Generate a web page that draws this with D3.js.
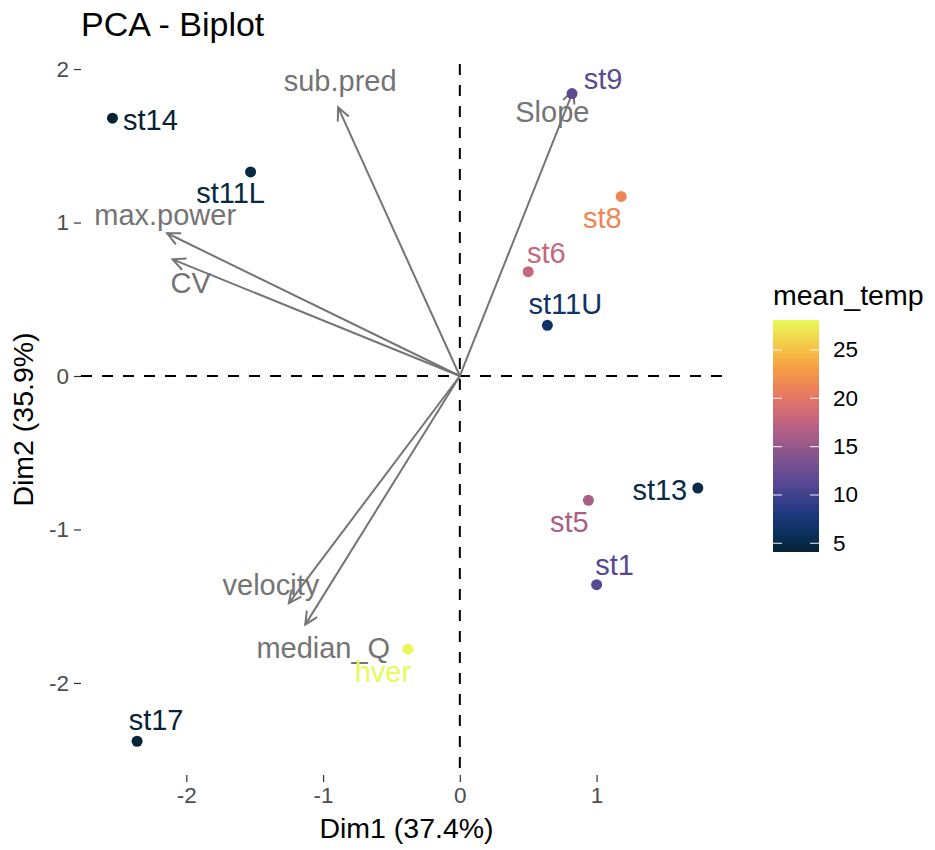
<!DOCTYPE html>
<html>
<head>
<meta charset="utf-8">
<script src="https://cdn.jsdelivr.net/npm/d3@7"></script>
<style>
  html, body { margin: 0; padding: 0; background: #fff; }
  svg { display: block; font-family: "Liberation Sans", Arial, sans-serif; }
</style>
</head>
<body>
<svg id="chart" width="935" height="850"></svg>
<script>
// Individuals (sampling stations): PCA coordinates and mean temperature
const stations = ["st14", "st11L", "st9", "st8", "st6", "st11U", "st13", "st5", "st1", "hver", "st17"];
const dim1 = [-2.54, -1.53, 0.82, 1.18, 0.50, 0.64, 1.74, 0.94, 1.00, -0.38, -2.36];
const dim2 = [1.68, 1.33, 1.84, 1.17, 0.68, 0.33, -0.73, -0.81, -1.36, -1.78, -2.38];
const meanTemp = [4.1, 4.8, 11.5, 21.3, 18.0, 6.6, 5.0, 16.2, 11.2, 28.1, 4.3];

// Variables: loadings drawn as arrows from the origin
const variables = ["sub.pred", "Slope", "max.power", "CV", "velocity", "median_Q"];
const varDim1 = [-0.89, 0.83, -2.14, -2.10, -1.25, -1.13];
const varDim2 = [1.75, 1.86, 0.93, 0.76, -1.48, -1.62];

const xTicks = [-2, -1, 0, 1];
const yTicks = [-2, -1, 0, 1, 2];
const legendTicks = [5, 10, 15, 20, 25];

const xTitle = "Dim1 (37.4%)";
const yTitle = "Dim2 (35.9%)";
const chartTitle = "PCA - Biplot";
const legendTitle = "mean_temp";

// Label placement offsets (pixels) around each mark
const stationNudge = {
  st14: [38, 2], st11L: [-20, 21], st9: [31, -15], st8: [-19, 22], st6: [18, -19],
  st11U: [18, -21], st13: [-38, 2], st5: [-19, 22], st1: [18, -20], hver: [-25, 23], st17: [19, -21]
};
const variableNudge = {
  "sub.pred": [2, -26], "Slope": [-21, 21], "max.power": [-2, -18],
  "CV": [18, 24], "velocity": [-18, -18], "median_Q": [18, 23]
};

// Thermal colour ramp (dark navy -> blue -> purple -> pink -> orange -> yellow)
const thermal = ["#042333", "#0b3568", "#2a3a8c", "#5a4a94", "#7d5290", "#a95d86",
                 "#d0697a", "#ee7d5a", "#f9a13e", "#f4cd47", "#e7fa5a"];

const svg = d3.select("#chart");
const panel = { left: 81, right: 732, top: 64, bottom: 775 };

const x = d3.scaleLinear().domain([-2.77, 1.99]).range([panel.left, panel.right]);
const y = d3.scaleLinear().domain([-2.60, 2.033]).range([panel.bottom, panel.top]);

const tempExtent = d3.extent(meanTemp);
const colorInterp = d3.interpolateRgbBasis(thermal);
const color = d3.scaleSequential(colorInterp).domain(tempExtent);

const axisGrey = "#4d4d4d";
const varGrey = "#747474";
const labelSize = 29;

// Title
svg.append("text").attr("x", panel.left).attr("y", 36)
  .attr("font-size", 34).attr("fill", "#000").text(chartTitle);

// Axes
const fmt = d => String(d);
const xAxis = d3.axisBottom(x).tickValues(xTicks).tickSize(7).tickPadding(5).tickFormat(fmt);
const gx = svg.append("g").attr("transform", `translate(0,${panel.bottom})`).call(xAxis);
gx.select(".domain").remove();
gx.selectAll(".tick line").attr("stroke", "#333").attr("stroke-width", 1.2);
gx.selectAll(".tick text").attr("fill", axisGrey).attr("font-size", 22.5)
  .attr("font-family", "Liberation Sans, Arial, sans-serif");

const yAxis = d3.axisLeft(y).tickValues(yTicks).tickSize(7).tickPadding(5).tickFormat(fmt);
const gy = svg.append("g").attr("transform", `translate(${panel.left},0)`).call(yAxis);
gy.select(".domain").remove();
gy.selectAll(".tick line").attr("stroke", "#333").attr("stroke-width", 1.2);
gy.selectAll(".tick text").attr("fill", axisGrey).attr("font-size", 22.5)
  .attr("font-family", "Liberation Sans, Arial, sans-serif");

svg.append("text").attr("x", (panel.left + panel.right) / 2).attr("y", 838)
  .attr("text-anchor", "middle").attr("font-size", 28.5).attr("fill", "#000").text(xTitle);
svg.append("text").attr("transform", `translate(33,${(panel.top + panel.bottom) / 2}) rotate(-90)`)
  .attr("text-anchor", "middle").attr("font-size", 28.5).attr("fill", "#000").text(yTitle);

// Reference lines through the origin
svg.append("line").attr("x1", panel.left).attr("x2", panel.right)
  .attr("y1", y(0)).attr("y2", y(0))
  .attr("stroke", "#000").attr("stroke-width", 2).attr("stroke-dasharray", "11,10");
svg.append("line").attr("x1", x(0)).attr("x2", x(0))
  .attr("y1", panel.top).attr("y2", panel.bottom)
  .attr("stroke", "#000").attr("stroke-width", 2).attr("stroke-dasharray", "11,10");

// Variable arrows
const varData = variables.map((v, i) => ({ name: v, d1: varDim1[i], d2: varDim2[i] }));
const arrows = svg.append("g");
varData.forEach(d => {
  const x0 = x(0), y0 = y(0), x1 = x(d.d1), y1 = y(d.d2);
  const ang = Math.atan2(y1 - y0, x1 - x0);
  const head = 14, spread = Math.PI / 7;
  arrows.append("line").attr("x1", x0).attr("y1", y0).attr("x2", x1).attr("y2", y1)
    .attr("stroke", varGrey).attr("stroke-width", 2);
  arrows.append("path")
    .attr("d", `M${x1 - head * Math.cos(ang - spread)},${y1 - head * Math.sin(ang - spread)}` +
               `L${x1},${y1}` +
               `L${x1 - head * Math.cos(ang + spread)},${y1 - head * Math.sin(ang + spread)}`)
    .attr("fill", "none").attr("stroke", varGrey).attr("stroke-width", 2)
    .attr("stroke-linejoin", "miter");
});

// Stations
const stData = stations.map((s, i) => ({ name: s, d1: dim1[i], d2: dim2[i], t: meanTemp[i] }));
svg.append("g").selectAll("circle").data(stData).join("circle")
  .attr("cx", d => x(d.d1)).attr("cy", d => y(d.d2)).attr("r", 5.5)
  .attr("fill", d => color(d.t));

// Variable labels
svg.append("g").selectAll("text").data(varData).join("text")
  .attr("x", d => x(d.d1) + variableNudge[d.name][0])
  .attr("y", d => y(d.d2) + variableNudge[d.name][1])
  .attr("text-anchor", "middle").attr("dominant-baseline", "central")
  .attr("font-size", labelSize).attr("fill", varGrey).text(d => d.name);

// Station labels
svg.append("g").selectAll("text").data(stData).join("text")
  .attr("x", d => x(d.d1) + stationNudge[d.name][0])
  .attr("y", d => y(d.d2) + stationNudge[d.name][1])
  .attr("text-anchor", "middle").attr("dominant-baseline", "central")
  .attr("font-size", labelSize).attr("fill", d => color(d.t)).text(d => d.name);

// Colour bar legend
const legend = { x: 773, y: 320, w: 46, h: 232 };
const defs = svg.append("defs");
const grad = defs.append("linearGradient").attr("id", "tempGrad")
  .attr("x1", 0).attr("y1", 1).attr("x2", 0).attr("y2", 0);
d3.range(0, 1.0001, 0.05).forEach(p => {
  grad.append("stop").attr("offset", p).attr("stop-color", colorInterp(p));
});
svg.append("text").attr("x", legend.x).attr("y", legend.y - 15)
  .attr("font-size", 28.5).attr("fill", "#000").text(legendTitle);
svg.append("rect").attr("x", legend.x).attr("y", legend.y)
  .attr("width", legend.w).attr("height", legend.h).attr("fill", "url(#tempGrad)");
const ly = d3.scaleLinear().domain(tempExtent).range([legend.y + legend.h, legend.y]);
const lg = svg.append("g");
legendTicks.forEach(t => {
  lg.append("line").attr("x1", legend.x).attr("x2", legend.x + 9)
    .attr("y1", ly(t)).attr("y2", ly(t)).attr("stroke", "#fff").attr("stroke-width", 1.2).attr("opacity", 0.8);
  lg.append("line").attr("x1", legend.x + legend.w - 9).attr("x2", legend.x + legend.w)
    .attr("y1", ly(t)).attr("y2", ly(t)).attr("stroke", "#fff").attr("stroke-width", 1.2).attr("opacity", 0.8);
  lg.append("text").attr("x", legend.x + legend.w + 14).attr("y", ly(t))
    .attr("dominant-baseline", "central").attr("font-size", 22.5).attr("fill", "#000").text(t);
});
</script>
</body>
</html>
